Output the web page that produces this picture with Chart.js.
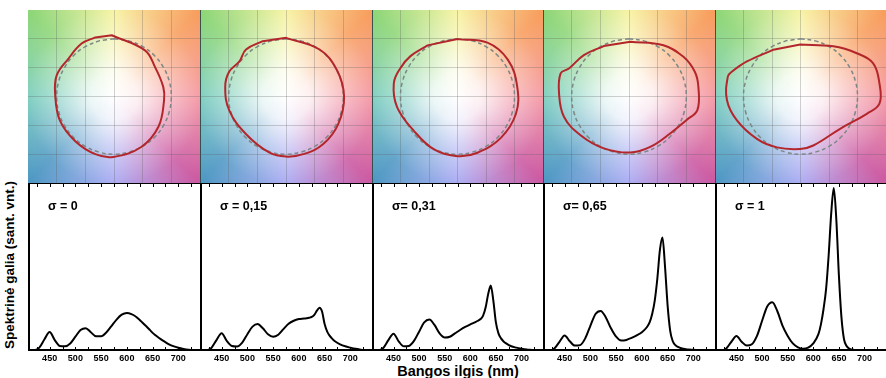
<!DOCTYPE html>
<html>
<head>
<meta charset="utf-8">
<script src="https://cdn.jsdelivr.net/npm/chart.js@4.4.1/dist/chart.umd.min.js"></script>
<style>
body { margin: 0; background: #fff; }
#wrap { position: relative; width: 886px; height: 378px; overflow: hidden; font-family: "Liberation Sans", Arial, sans-serif; color: #000; }
canvas { position: absolute; }
.sig { position: absolute; font-weight: bold; font-size: 12.5px; white-space: nowrap; }
#ylab { position: absolute; left: 9px; top: 265px; transform: translate(-50%, -50%) rotate(-90deg); font-weight: bold; font-size: 13.5px; white-space: nowrap; }
#xlab { position: absolute; left: 458px; top: 371px; transform: translate(-50%, -50%); font-weight: bold; font-size: 14.5px; white-space: nowrap; }
</style>
</head>
<body>
<div id="wrap">
  <div id="ylab">Spektrinė galia (sant. vnt.)</div>
  <div id="xlab">Bangos ilgis (nm)</div>
</div>
<script>
// panel labels
const sigmaLabels = ["σ = 0", "σ = 0,15", "σ= 0,31", "σ= 0,65", "σ = 1"];

// wavelength grid (nm) shared by all spectra
const wavelengths = [410, 420, 430, 440, 450, 460, 470, 480, 490, 500, 510, 520, 530, 540, 550, 560, 570, 580, 590, 600,
  610, 615, 620, 625, 630, 635, 640, 645, 650, 655, 660, 665, 670, 680, 690, 700, 710, 720, 730, 740];

const spec0 = [0, 0.003, 0.02, 0.07, 0.113, 0.065, 0.03, 0.028, 0.045, 0.085, 0.125, 0.136, 0.112, 0.088, 0.088, 0.11, 0.148, 0.187, 0.216, 0.226,
  0.218, 0.21, 0.198, 0.185, 0.17, 0.155, 0.14, 0.124, 0.108, 0.095, 0.083, 0.072, 0.062, 0.043, 0.029, 0.019, 0.012, 0.007, 0.004, 0.002];
const spec15 = [0, 0.003, 0.018, 0.065, 0.105, 0.06, 0.03, 0.027, 0.05, 0.1, 0.145, 0.16, 0.135, 0.1, 0.085, 0.097, 0.13, 0.162, 0.18, 0.19,
  0.193, 0.195, 0.198, 0.203, 0.215, 0.24, 0.258, 0.235, 0.16, 0.115, 0.09, 0.072, 0.058, 0.04, 0.028, 0.02, 0.013, 0.008, 0.004, 0.002];
const spec31 = [0, 0.003, 0.018, 0.065, 0.103, 0.058, 0.028, 0.03, 0.06, 0.115, 0.17, 0.187, 0.155, 0.105, 0.08, 0.085, 0.105, 0.125, 0.143, 0.158,
  0.172, 0.18, 0.19, 0.21, 0.26, 0.34, 0.39, 0.3, 0.17, 0.105, 0.075, 0.057, 0.045, 0.028, 0.02, 0.014, 0.009, 0.006, 0.003, 0.001];
const spec65 = [0, 0.002, 0.015, 0.055, 0.093, 0.058, 0.032, 0.035, 0.075, 0.15, 0.22, 0.238, 0.2, 0.135, 0.085, 0.062, 0.066, 0.078, 0.093, 0.112,
  0.143, 0.17, 0.22, 0.3, 0.43, 0.6, 0.675, 0.5, 0.27, 0.12, 0.058, 0.035, 0.024, 0.013, 0.009, 0.007, 0.005, 0.003, 0.002, 0.001];
const spec100 = [0, 0.002, 0.015, 0.055, 0.089, 0.055, 0.032, 0.04, 0.09, 0.18, 0.265, 0.29, 0.235, 0.15, 0.09, 0.045, 0.022, 0.014, 0.02, 0.045,
  0.1, 0.16, 0.25, 0.37, 0.57, 0.82, 0.97, 0.78, 0.45, 0.2, 0.07, 0.03, 0.015, 0.006, 0.004, 0.003, 0.002, 0.001, 0.001, 0];
const spectra = [spec0, spec15, spec31, spec65, spec100];

const tickValues = [425, 450, 475, 500, 525, 550, 575, 600, 625, 650, 675, 700, 725];
const tickLabels = [450, 500, 550, 600, 650, 700];

// colour gamut outlines (a*, b*), closed loops
const gamut0 = [[-1.6, 42.5], [21.6, 32], [28.6, 20.5], [34.4, 6.5], [34.9, -2.8], [31, -21], [19, -35], [-0.5, -41.9], [-13, -40],
  [-27, -31], [-37.7, -16.7], [-41, 0.7], [-40, 14.6], [-32, 26], [-22.6, 36.7], [-13, 41]];
const gamut15 = [[0, 40.7], [23.4, 32.6], [35.4, 18.5], [40.5, 0], [36.5, -19], [26, -33], [12, -40], [0, -41.7], [-11.5, -39],
  [-28, -26], [-39.6, -9.6], [-42.4, 6.8], [-39.6, 17.3], [-32.5, 24.4], [-27.9, 32.6], [-16.2, 38.4]];
const gamut31 = [[0, 39.8], [21, 37.4], [35.3, 25.6], [41.9, 6.8], [41, -12], [30.6, -28.5], [14, -39], [0, -41.4], [-16.5, -36.7],
  [-30.6, -23.8], [-42.4, -7.3], [-44.7, 9.2], [-40, 19.8], [-33, 28], [-21, 35.5]];
const gamut65 = [[0.9, 38], [24, 35.6], [38, 27.5], [46, 17], [48.4, 6.7], [47.7, -9.5], [40, -16.4], [28.7, -25.7], [14.8, -35],
  [0.9, -38.9], [-17.6, -36], [-33.8, -26.9], [-45.4, -14], [-48.8, 2], [-47.7, 16], [-41.9, 19.4], [-31.5, 28.7], [-17.6, 35]];
const gamut100 = [[-0.2, 36], [23, 34.8], [39.5, 30], [51, 23], [55.4, 9], [55.4, -5], [46.5, -12], [27.8, -22.4], [9, -34],
  [-0.2, -36.4], [-16.6, -35.3], [-30.6, -29.4], [-44.6, -16.6], [-51.6, -2.6], [-51, 13.8], [-48, 17.3], [-37.6, 24.3], [-19, 32.5]];
const gamuts = [gamut0, gamut15, gamut31, gamut65, gamut100];

// reference circle, radius 40
const refCircle = [[0, 40], [10.4, 38.6], [20, 34.6], [28.3, 28.3], [34.6, 20], [38.6, 10.4], [40, 0], [38.6, -10.4], [34.6, -20],
  [28.3, -28.3], [20, -34.6], [10.4, -38.6], [0, -40], [-10.4, -38.6], [-20, -34.6], [-28.3, -28.3], [-34.6, -20], [-38.6, -10.4],
  [-40, 0], [-38.6, 10.4], [-34.6, 20], [-28.3, 28.3], [-20, 34.6], [-10.4, 38.6]];

const panelLeft = [28, 200, 372, 543, 715];
const panelRight = [200, 372, 543, 715, 886];

const wrap = document.getElementById("wrap");

// background hue plane behind the gamut outlines
const colourField = {
  id: "colourField",
  beforeDraw(chart) {
    const { ctx, chartArea: a } = chart;
    const cx = (a.left + a.right) / 2, cy = (a.top + a.bottom) / 2;
    ctx.save();
    const g = ctx.createConicGradient(0, cx, cy);
    g.addColorStop(0, "#f48c98");
    g.addColorStop(0.125, "#cc5aa2");
    g.addColorStop(0.25, "#9fa0f2");
    g.addColorStop(0.375, "#4f98c4");
    g.addColorStop(0.5, "#6cc8b6");
    g.addColorStop(0.625, "#8ed678");
    g.addColorStop(0.75, "#f6f296");
    g.addColorStop(0.875, "#f89e5e");
    g.addColorStop(1, "#f48c98");
    ctx.fillStyle = g;
    ctx.fillRect(a.left, a.top, a.right - a.left, a.bottom - a.top);
    const r = ctx.createRadialGradient(cx, cy, 0, cx, cy, 118);
    r.addColorStop(0, "rgba(255,255,255,1)");
    r.addColorStop(0.2, "rgba(255,255,255,0.88)");
    r.addColorStop(0.45, "rgba(255,255,255,0.5)");
    r.addColorStop(0.75, "rgba(255,255,255,0.12)");
    r.addColorStop(1, "rgba(255,255,255,0)");
    ctx.fillStyle = r;
    ctx.fillRect(a.left, a.top, a.right - a.left, a.bottom - a.top);
    ctx.restore();
  },
  // draw the outlines as closed smooth loops
  beforeDatasetsDraw(chart) {
    chart.data.datasets.forEach((ds, k) => {
      const line = chart.getDatasetMeta(k).dataset;
      line._loop = true;
      line._fullLoop = true;
    });
  }
};

// frame and inward ticks of the spectrum panels
const frame = {
  id: "frame",
  afterDraw(chart) {
    const { ctx, chartArea: a, scales: { x } } = chart;
    ctx.save();
    ctx.strokeStyle = "#000";
    ctx.lineWidth = 1;
    ctx.beginPath();
    ctx.moveTo(a.left, a.top + 0.5); ctx.lineTo(a.right, a.top + 0.5);
    for (const v of tickValues) {
      const px = Math.round(x.getPixelForValue(v)) + 0.5;
      ctx.moveTo(px, a.top); ctx.lineTo(px, a.top + 4);
      ctx.moveTo(px, a.bottom); ctx.lineTo(px, a.bottom - 4);
    }
    ctx.stroke();
    ctx.lineWidth = 2;
    ctx.beginPath();
    ctx.moveTo(a.left + 1, a.top); ctx.lineTo(a.left + 1, a.bottom);
    ctx.moveTo(a.left, a.bottom - 1); ctx.lineTo(a.right, a.bottom - 1);
    ctx.stroke();
    ctx.restore();
  }
};

function makeCanvas(left, top, w, h) {
  const c = document.createElement("canvas");
  c.width = w; c.height = h;
  c.style.left = left + "px"; c.style.top = top + "px";
  c.style.width = w + "px"; c.style.height = h + "px";
  wrap.appendChild(c);
  return c;
}

for (let i = 0; i < 5; i++) {
  const w = panelRight[i] - panelLeft[i];

  // colour gamut panel
  const topCanvas = makeCanvas(panelLeft[i], 10, w, 173);
  new Chart(topCanvas, {
    type: "scatter",
    data: {
      datasets: [
        {
          data: gamuts[i].map(p => ({ x: p[0], y: p[1] })),
          showLine: true, borderColor: "#b3262b", borderWidth: 2, pointRadius: 0, tension: 0.4
        },
        {
          data: refCircle.map(p => ({ x: p[0], y: p[1] })),
          showLine: true, borderColor: "#7d8786", borderWidth: 1.5, borderDash: [4, 3], pointRadius: 0, tension: 0.4
        }
      ]
    },
    options: {
      responsive: false, animation: false, events: [],
      layout: { padding: 0 },
      plugins: { legend: { display: false }, tooltip: { enabled: false } },
      scales: {
        x: {
          type: "linear", min: -60, max: 60,
          afterFit: s => { s.height = 0; },
          ticks: { display: false, stepSize: 20 },
          border: { display: false },
          grid: {
            drawTicks: false,
            color: c => c.tick.value === -60 ? (i === 0 ? "rgba(0,0,0,0)" : "rgba(45,70,70,0.9)")
              : c.tick.value === 60 ? "rgba(0,0,0,0)" : "rgba(90,90,90,0.28)"
          }
        },
        y: {
          type: "linear", min: -60, max: 60,
          afterFit: s => { s.width = 0; },
          ticks: { display: false, stepSize: 20 },
          border: { display: false },
          grid: {
            drawTicks: false,
            color: c => Math.abs(c.tick.value) === 60 ? "rgba(0,0,0,0)" : "rgba(90,90,90,0.28)"
          }
        }
      }
    },
    plugins: [colourField]
  });

  // spectrum panel
  const botCanvas = makeCanvas(panelLeft[i], 183, w, 183);
  new Chart(botCanvas, {
    type: "line",
    data: {
      datasets: [{
        data: wavelengths.map((wl, k) => ({ x: wl, y: spectra[i][k] })),
        borderColor: "#000", borderWidth: 2, pointRadius: 0,
        cubicInterpolationMode: "monotone", fill: false
      }]
    },
    options: {
      responsive: false, animation: false, events: [],
      layout: { padding: 0 },
      plugins: { legend: { display: false }, tooltip: { enabled: false } },
      scales: {
        x: {
          type: "linear", min: 408, max: 742,
          afterBuildTicks: s => { s.ticks = tickValues.map(v => ({ value: v })); },
          afterFit: s => { s.height = 15; },
          grid: { display: false, drawTicks: false },
          border: { display: false },
          ticks: {
            padding: 2, autoSkip: false, maxRotation: 0, color: "#000",
            font: { family: "'Liberation Sans', Arial, sans-serif", size: 9, weight: "bold" },
            callback: v => tickLabels.includes(v) ? String(v) : ""
          }
        },
        y: { display: false, min: 0, max: 1 }
      }
    },
    plugins: [frame]
  });

  const lab = document.createElement("div");
  lab.className = "sig";
  lab.textContent = sigmaLabels[i];
  lab.style.left = (panelLeft[i] + 20) + "px";
  lab.style.top = "199px";
  wrap.appendChild(lab);
}
</script>
</body>
</html>
